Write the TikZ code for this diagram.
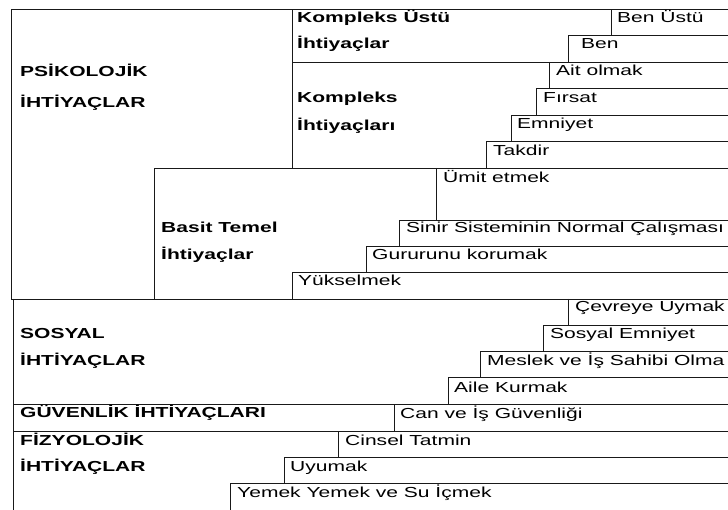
\documentclass[tikz,border=0pt]{standalone}
\usepackage{fontspec}
\setmainfont{Liberation Sans}[FakeStretch=1.45]
\begin{document}
\begin{tikzpicture}[x=1pt,y=-1pt,
  ln/.style={draw=black!90,line width=0.9pt},
  lbl/.style={anchor=base west,inner sep=0pt,font=\fontsize{14.5}{16}\selectfont},
  hd/.style={anchor=base west,inner sep=0pt,font=\fontsize{14.5}{16}\selectfont\bfseries}]
\useasboundingbox (0,0) rectangle (728,510);
\clip (0,0) rectangle (728,510);
% upper section
\path[ln] (740,9.5) -- (11,9.5) -- (11,299) -- (740,299);
\path[ln] (292,9.5) -- (292,168);
\path[ln] (292,62) -- (740,62);
\path[ln] (611,9.5) -- (611,35);
\path[ln] (740,35) -- (568,35) -- (568,62);
\path[ln] (549,62) -- (549,88);
\path[ln] (740,88) -- (536,88) -- (536,115);
\path[ln] (740,115) -- (511,115) -- (511,141);
\path[ln] (740,141) -- (486,141) -- (486,168);
\path[ln] (740,168) -- (154,168) -- (154,299);
\path[ln] (436,168) -- (436,220);
\path[ln] (740,220) -- (399,220) -- (399,246);
\path[ln] (740,246) -- (366,246) -- (366,272);
\path[ln] (740,272) -- (292,272) -- (292,299);
% lower section
\path[ln] (13.5,299) -- (13.5,520);
\path[ln] (568,299) -- (568,325);
\path[ln] (740,325) -- (543,325) -- (543,351);
\path[ln] (740,351) -- (480,351) -- (480,377);
\path[ln] (740,377) -- (448,377) -- (448,404.5);
\path[ln] (740,404.5) -- (13.5,404.5);
\path[ln] (394,404.5) -- (394,431);
\path[ln] (740,431) -- (13.5,431);
\path[ln] (338,431) -- (338,457);
\path[ln] (740,457) -- (284,457) -- (284,483);
\path[ln] (740,483) -- (230,483) -- (230,520);
% headings
\node[hd] (psi1) at (20,77) {PSİKOLOJİK};
\node[hd] (psi2) at (20,108) {İHTİYAÇLAR};
\node[hd] (ku1) at (297,23) {Kompleks Üstü};
\node[hd] (ku2) at (297,49) {İhtiyaçlar};
\node[hd] (k1) at (297,103) {Kompleks};
\node[hd] (k2) at (297,131) {İhtiyaçları};
\node[hd] (b1) at (161,233) {Basit Temel};
\node[hd] (b2) at (161,260) {İhtiyaçlar};
\node[hd] (s1) at (20,339) {SOSYAL};
\node[hd] (s2) at (20,366) {İHTİYAÇLAR};
\node[hd] (g1) at (20,417) {GÜVENLİK İHTİYAÇLARI};
\node[hd] (f1) at (20,445) {FİZYOLOJİK};
\node[hd] (f2) at (20,471) {İHTİYAÇLAR};
% items
\node[lbl] (i1) at (617,23) {Ben Üstü};
\node[lbl] (i2) at (581,49) {Ben};
\node[lbl] (i3) at (556,76) {Ait olmak};
\node[lbl] (i4) at (543,103) {Fırsat};
\node[lbl] (i5) at (517,129) {Emniyet};
\node[lbl] (i6) at (493,156) {Takdir};
\node[lbl] (i7) at (443,183) {Ümit etmek};
\node[lbl] (i8) at (406,233) {Sinir Sisteminin Normal Çalışması};
\node[lbl] (i9) at (372,260) {Gururunu korumak};
\node[lbl] (i10) at (298,286) {Yükselmek};
\node[lbl] (i11) at (575,312) {Çevreye Uymak};
\node[lbl] (i12) at (550,339) {Sosyal Emniyet};
\node[lbl] (i13) at (487,366) {Meslek ve İş Sahibi Olma};
\node[lbl] (i14) at (454,392) {Aile Kurmak};
\node[lbl] (i15) at (400,418) {Can ve İş Güvenliği};
\node[lbl] (i16) at (345,445) {Cinsel Tatmin};
\node[lbl] (i17) at (290,471) {Uyumak};
\node[lbl] (i18) at (237,497) {Yemek Yemek ve Su İçmek};
\end{tikzpicture}
\end{document}
